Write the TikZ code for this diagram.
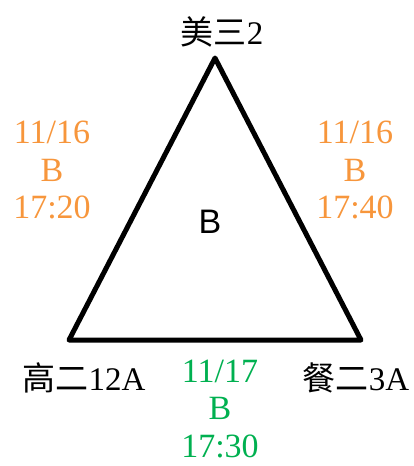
\documentclass[tikz,border=0pt]{standalone}
\usepackage{fontspec}
\setmainfont{Liberation Serif}
\setsansfont{Liberation Sans}
\newfontfamily\cjk{Noto Sans CJK TC}
\usepackage{xcolor}
\usepackage{tikz}
\usetikzlibrary{calc}
\definecolor{ink}{HTML}{000000}
\definecolor{amber}{HTML}{F7963C}
\definecolor{leaf}{HTML}{00B050}
\tikzset{
  side/.style={draw=ink, line width=5pt, line cap=round, line join=round},
  place/.style={text=ink, inner sep=0pt, font=\rmfamily\fontsize{33}{33}\selectfont},
  slot/.style={align=center, inner sep=0pt, font=\rmfamily\fontsize{34}{37.5}\selectfont},
  core/.style={text=ink, inner sep=0pt, font=\sffamily\fontsize{34}{34}\selectfont},
}

\begin{document}
\begin{tikzpicture}[x=1pt,y=-1pt]
  \useasboundingbox (0,0) rectangle (414,466);
  % corners
  \coordinate (T) at (215,58);
  \coordinate (L) at (69,340);
  \coordinate (R) at (361,340);
  \draw[side] (T)--(L)--(R)--cycle;
  % classes
  \node[place] (top)   at (222,32)  {{\cjk 美三}2};
  \node[place] (left)  at (84,378)  {{\cjk 高二}12A};
  \node[place] (right) at (356,378) {{\cjk 餐二}3A};
  \node[core]  (mid)   at (210,222) {B};
  % slots
  \node[slot,text=amber] (tl)  at (52,170)  {11/16\\B\\17:20};
  \node[slot,text=amber] (tr)  at (355,170) {11/16\\B\\17:40};
  \node[slot,text=leaf]  (bot) at (220,409) {11/17\\B\\17:30};
\end{tikzpicture}
\end{document}
